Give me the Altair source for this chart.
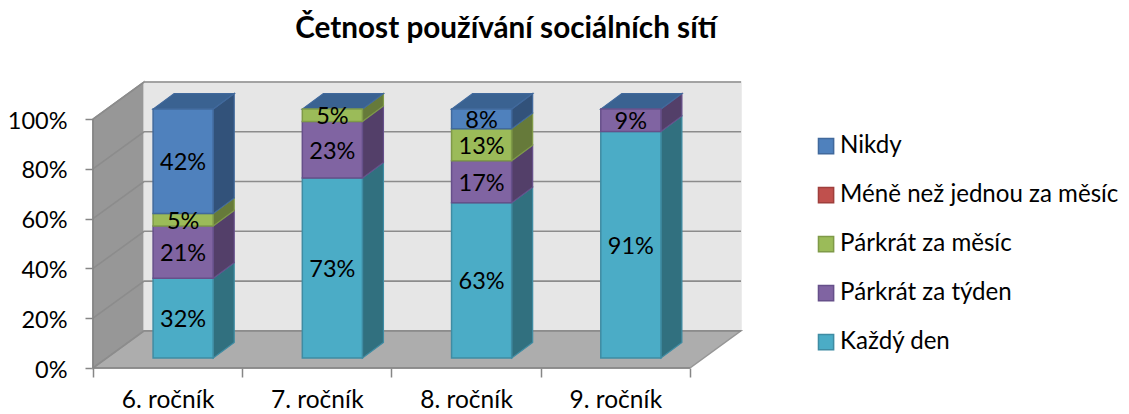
import json
import altair as alt
import pandas as pd

title = "Četnost používání sociálních sítí"
categories = ["6. ročník", "7. ročník", "8. ročník", "9. ročník"]
series = ["Každý den", "Párkrát za týden", "Párkrát za měsíc", "Méně než jednou za měsíc", "Nikdy"]
kazdy_den = [32, 73, 63, 91]
za_tyden = [21, 23, 17, 9]
za_mesic = [5, 5, 13, 0]
mene = [0, 0, 0, 0]
nikdy = [42, 0, 8, 0]
values = [kazdy_den, za_tyden, za_mesic, mene, nikdy]
front_col = ["#4BACC6", "#8064A2", "#9BBB59", "#C0504D", "#4F81BD"]
edge_col = ["#3F8CA3", "#66508A", "#7F9A48", "#9F3F3C", "#41699C"]
side_col = ["#31707F", "#533F69", "#667A3A", "#7E3432", "#32527A"]
top_col = "#3A6291"
ticks = [0, 20, 40, 60, 80, 100]

# oblique projection, in units of the scales
PX_X, PX_Y = 149.0, 2.48
WALL_DX, WALL_DY = 51 / PX_X, 37 / PX_Y
OFF_X, OFF_Y = 15.5 / PX_X, 10 / PX_Y
BAR_W = 60 / PX_X
BAR_DX, BAR_DY = 21 / PX_X, 15.5 / PX_Y
N = len(categories)
xmax, ymax = N + WALL_DX, 100 + WALL_DY

polys, fronts, labels = [], [], []
def poly(name, fill, stroke, pts):
    for x, y, y2 in pts:
        polys.append(dict(poly=name, fill=fill, stroke=stroke, x=x, y=y, y2=y2))

for i in range(N):
    total = sum(v[i] for v in values)
    x0 = i + 0.5 - BAR_W / 2 + OFF_X
    x1 = x0 + BAR_W
    cum = 0
    for s, v in enumerate(values):
        if v[i] == 0:
            continue
        lo = cum / total * 100
        cum += v[i]
        hi = cum / total * 100
        fronts.append(dict(series=series[s], x=x0, x2=x1, y=lo + OFF_Y, y2=hi + OFF_Y))
        labels.append(dict(x=(x0 + x1) / 2, y=(lo + hi) / 2 + OFF_Y, label=f"{v[i]}%"))
        poly(f"side{i}{s}", side_col[s], edge_col[s], [
            (x1, lo + OFF_Y, hi + OFF_Y),
            (x1 + BAR_DX, lo + OFF_Y + BAR_DY, hi + OFF_Y + BAR_DY),
        ])
    t = 100 + OFF_Y
    poly(f"top{i}", top_col, edge_col[4], [
        (x0, t, t),
        (x0 + BAR_DX, t, t + BAR_DY),
        (x1, t, t + BAR_DY),
        (x1 + BAR_DX, t + BAR_DY, t + BAR_DY),
    ])

wall = []
wall.append(dict(poly="left", fill="#979797", stroke="#8A8A8A", x=0, y=0, y2=100))
wall.append(dict(poly="left", fill="#979797", stroke="#8A8A8A", x=WALL_DX, y=WALL_DY, y2=ymax))
wall.append(dict(poly="back", fill="#E6E6E6", stroke="#E6E6E6", x=WALL_DX, y=WALL_DY, y2=ymax))
wall.append(dict(poly="back", fill="#E6E6E6", stroke="#E6E6E6", x=xmax, y=WALL_DY, y2=ymax))
for x, y, y2 in [(0, 0, 0), (WALL_DX, 0, WALL_DY), (N, 0, WALL_DY), (xmax, WALL_DY, WALL_DY)]:
    wall.append(dict(poly="floor", fill="#ADADAD", stroke="#969696", x=x, y=y, y2=y2))

grid = []
for v in ticks:
    grid.append(dict(v=v, x=0, y=v))
    grid.append(dict(v=v, x=WALL_DX, y=v + WALL_DY))
    grid.append(dict(v=v, x=xmax, y=v + WALL_DY))

xs = alt.Scale(domain=[0, xmax], nice=False, zero=False)
ys = alt.Scale(domain=[0, ymax], nice=False, zero=False)
FONT = "Lato"
TXT = "#000000"
AX = "#868686"

x_vals = [k / 2 for k in range(2 * N + 1)]
x_axis = alt.Axis(
    values=x_vals, domain=False, grid=False, title=None, tickSize=9, tickWidth=1.5, tickColor=AX,
    tickOpacity=alt.expr("datum.value % 1 ? 0 : 1"),
    labelExpr=f"datum.value % 1 ? {json.dumps(categories, ensure_ascii=False)}[floor(datum.value)] : ''",
    labelFont=FONT, labelFontSize=24.5, labelColor=TXT, labelPadding=11, labelOverlap=False,
    labelAngle=0, labelFlush=False,
)
y_axis = alt.Axis(
    values=ticks, domain=False, grid=False, title=None, tickSize=8, tickWidth=1.5, tickColor=AX,
    labelExpr="datum.value + '%'", labelFont=FONT, labelFontSize=23.5, labelColor=TXT,
    labelPadding=18, labelOverlap=False, labelOffset=2,
)
X = alt.X("x:Q", scale=xs, axis=x_axis)
Y = alt.Y("y:Q", scale=ys, axis=y_axis)

def area(df, sw):
    return alt.Chart(pd.DataFrame(df)).mark_area(orient="vertical", strokeWidth=sw).encode(
        x=X, y=Y, y2="y2:Q",
        detail="poly:N",
        fill=alt.Fill("fill:N", scale=None),
        stroke=alt.Stroke("stroke:N", scale=None),
    )

walls = area(wall, 1.5)
gridl = alt.Chart(pd.DataFrame(grid)).mark_line(color="#8C8C8C", strokeWidth=1.6).encode(
    x=X, y=Y, detail="v:N"
)
floor_edge = alt.Chart(pd.DataFrame({"x": [0], "x2": [N], "y": [0]})).mark_rule(color=AX, strokeWidth=1.6).encode(
    x=X, x2="x2:Q", y=Y
)
left_edge = alt.Chart(pd.DataFrame({"x": [0], "y": [0], "y2": [100]})).mark_rule(color=AX, strokeWidth=1.6).encode(
    x=X, y=Y, y2="y2:Q"
)
legend_order = series[::-1]
fr = alt.Chart(pd.DataFrame(fronts)).mark_rect(strokeWidth=1.5).encode(
    x=X, x2="x2:Q", y=Y, y2="y2:Q",
    color=alt.Color("series:N", scale=alt.Scale(domain=legend_order, range=front_col[::-1]),
        legend=alt.Legend(
            title=None, orient="none", legendX=721, legendY=52, symbolType="square", symbolSize=230,
            symbolStrokeWidth=1.5, labelFont=FONT, labelFontSize=24.1, labelColor=TXT, labelLimit=400,
            rowPadding=24, labelOffset=2, values=legend_order, symbolOpacity=1,
        )),
    stroke=alt.Stroke("series:N", scale=alt.Scale(domain=legend_order, range=edge_col[::-1])),
)
txt = alt.Chart(pd.DataFrame(labels)).mark_text(font=FONT, fontSize=23.5, color=TXT, baseline="middle", dy=2).encode(
    x=X, y=Y, text="label:N"
)

chart = alt.layer(walls, gridl, floor_edge, left_edge, area(polys, 1.2), fr, txt).properties(
    width=648, height=286,
    padding={"left": 85, "top": 74, "right": 380, "bottom": 44},
    autosize=alt.AutoSizeParams(type="none"),
    title=alt.TitleParams(title, font=FONT, fontSize=29.7, fontWeight="bold", color=TXT,
                          anchor="middle", frame="group", dx=89, offset=34),
    background="white",
).configure_view(stroke=None)

chart.save("out.html", embed_options={"renderer": "svg", "actions": False})
